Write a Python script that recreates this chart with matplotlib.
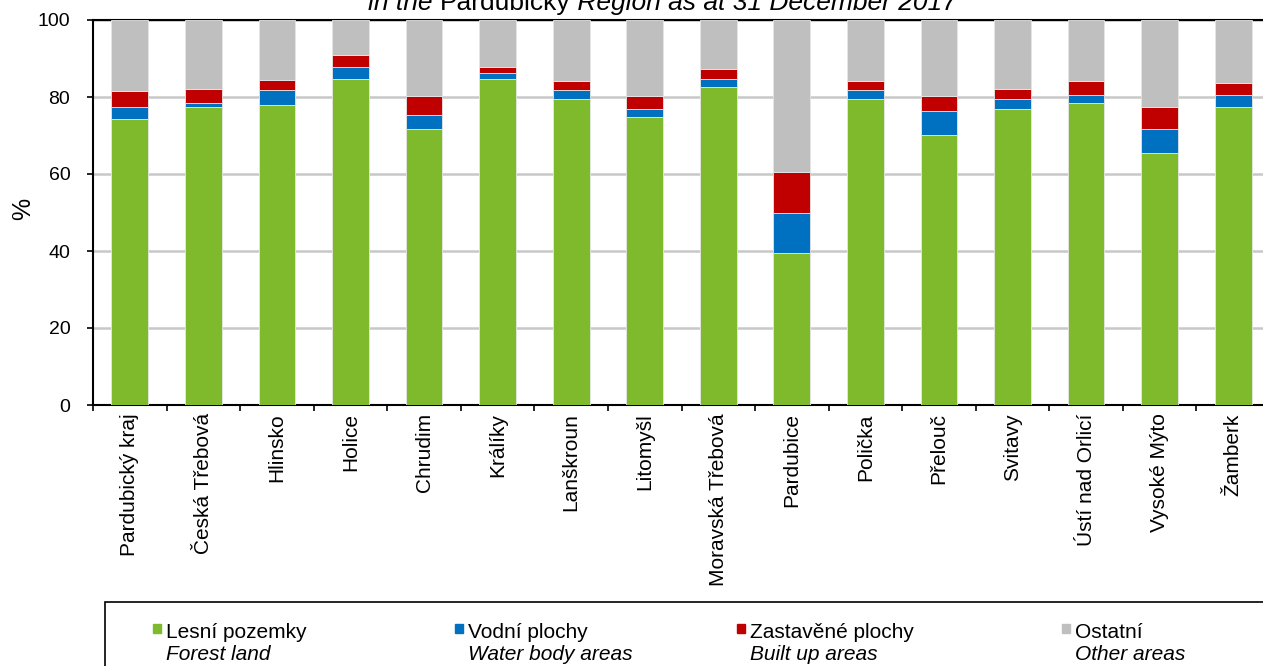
import matplotlib
matplotlib.use("Agg")
from matplotlib import pyplot as plt
from matplotlib.patches import Rectangle
import numpy as np

plt.rcParams["font.family"] = ["Liberation Sans", "DejaVu Sans"]

# Data (%)
okresy = ["Pardubický kraj", "Česká Třebová", "Hlinsko", "Holice", "Chrudim",
          "Králíky", "Lanškroun", "Litomyšl", "Moravská Třebová", "Pardubice",
          "Polička", "Přelouč", "Svitavy", "Ústí nad Orlicí", "Vysoké Mýto",
          "Žamberk"]
lesni = [74.3, 77.5, 78.0, 84.7, 71.7, 84.7, 79.6, 74.9, 82.6, 39.4,
         79.6, 70.2, 77.0, 78.4, 65.5, 77.5]
vodni = [3.1, 0.9, 3.7, 3.1, 3.6, 1.6, 2.1, 2.1, 2.1, 10.4,
         2.1, 6.1, 2.5, 2.1, 6.2, 3.0]
zastavene = [4.1, 3.6, 2.8, 3.0, 5.0, 1.4, 2.4, 3.3, 2.5, 10.8,
             2.4, 4.0, 2.5, 3.6, 5.6, 3.1]
ostatni = [100 - a - b - c for a, b, c in zip(lesni, vodni, zastavene)]

serie_cz = ["Lesní pozemky", "Vodní plochy", "Zastavěné plochy", "Ostatní"]
serie_en = ["Forest land", "Water body areas", "Built up areas", "Other areas"]
barvy = ["#7fba2c", "#0070c0", "#c00000", "#bfbfbf"]

W, H = 1263, 666
fig = plt.figure(figsize=(W / 100, H / 100), dpi=100)
ax = fig.add_axes([93 / W, 1 - 405 / H, 1177 / W, 385 / H])

x = np.arange(len(okresy))
spodek = np.zeros(len(okresy))
for hodnoty, barva in zip([lesni, vodni, zastavene, ostatni], barvy):
    ax.bar(x, hodnoty, 0.5, bottom=spodek, color=barva,
           edgecolor="#e6e6e6", linewidth=0.6, zorder=3)
    spodek += np.array(hodnoty)

ax.set_xlim(-0.5, len(okresy) - 0.5)
ax.set_ylim(0, 100)
ax.set_yticks([0, 20, 40, 60, 80, 100])
ax.tick_params(axis="y", direction="out", length=4.3, width=1.2, labelsize=14, pad=12)
ax.set_xticks(x)
ax.set_xticklabels(okresy, rotation=90, fontsize=15)
ax.tick_params(axis="x", length=0, pad=6)
ax.set_xticks(np.arange(len(okresy) + 1) - 0.5, minor=True)
ax.tick_params(axis="x", which="minor", direction="out", length=4.5, width=1.2)
ax.grid(axis="y", color="#c8c8c8", linewidth=1.8, zorder=0)
ax.set_ylabel("%", fontsize=18)
ax.yaxis.set_label_coords(-58 / 1177, 0.51)
for s in ["left", "bottom", "top"]:
    ax.spines[s].set_linewidth(1.5)
ax.spines["right"].set_visible(False)

# Title (its upper part is cut off in the original)
t1 = fig.text(368 / W, 1 - 15 / H, "in the ", fontsize=19, style="italic",
              ha="left", va="bottom")
t2 = plt.annotate("Pardubický", xy=(1, 0), xycoords=t1, fontsize=19,
                  ha="left", va="bottom", annotation_clip=False)
t3 = plt.annotate(" Region as at 31 December 2017", xy=(1, 0), xycoords=t2,
                  fontsize=19, style="italic", ha="left", va="bottom",
                  annotation_clip=False)

# Legend box
fig.patches.append(Rectangle((105 / W, -0.05), 1.0, (666 - 602) / H + 0.05,
                             transform=fig.transFigure, fill=False,
                             edgecolor="black", linewidth=1.2))
leg_x = [153, 455, 737, 1062]
for lx, cz, en, barva in zip(leg_x, serie_cz, serie_en, barvy):
    fig.patches.append(Rectangle((lx / W, 1 - 633 / H), 8 / W, 9 / H,
                                 transform=fig.transFigure, color=barva))
    fig.text((lx + 13) / W, 1 - 638 / H, cz, fontsize=15,
             ha="left", va="baseline")
    fig.text((lx + 13) / W, 1 - 660 / H, en, fontsize=15, style="italic",
             ha="left", va="baseline")

fig.savefig("out.png", dpi=100)
